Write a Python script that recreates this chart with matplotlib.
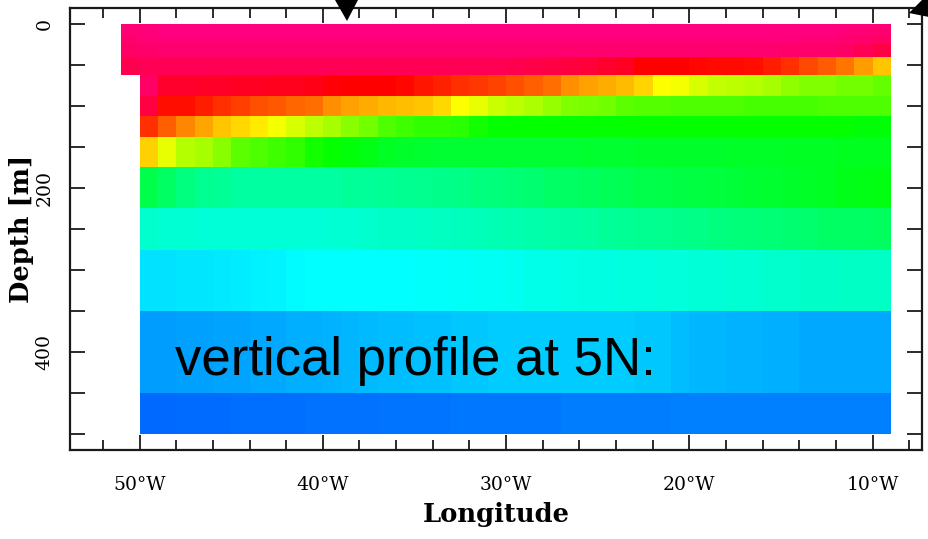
import numpy as np
import matplotlib
matplotlib.use('Agg')
import matplotlib.pyplot as plt
from matplotlib.colors import LinearSegmentedColormap
from matplotlib.patches import Polygon
from matplotlib.ticker import MultipleLocator, FixedLocator

nan = np.nan

# grid: 1 degree cells from 51W to 9W, depth cell edges in metres
lon_edges = np.arange(-51, -8, 1)
depth_edges = [0, 5, 15, 25, 40, 62.5, 87.5, 112.5, 137.5, 175, 225, 275, 350, 450, 500]

# temperature-like values per depth level, west -> east
t_0m = [28.8, 28.9, 29.0, 29.0, 29.0, 29.0, 29.0, 29.0, 29.0, 29.0,
        29.0, 29.0, 29.0, 29.0, 29.0, 29.0, 29.0, 29.0, 29.0, 29.0,
        29.0, 29.0, 29.0, 29.0, 29.0, 29.0, 29.0, 29.0, 29.0, 29.0,
        29.0, 29.0, 29.0, 29.0, 29.0, 29.0, 29.0, 29.0, 29.0, 29.0,
        29.0, 28.9]
t_10m = [28.8, 28.9, 29.0, 29.0, 29.0, 29.0, 29.0, 29.0, 29.0, 29.0,
         29.0, 29.0, 29.0, 29.0, 29.0, 29.0, 29.0, 29.0, 29.0, 29.0,
         29.0, 29.0, 29.0, 29.0, 29.0, 29.0, 29.0, 29.0, 29.0, 29.0,
         29.0, 29.0, 29.0, 29.0, 29.0, 29.0, 29.0, 29.0, 29.0, 28.9,
         28.8, 28.7]
t_20m = [28.7, 28.8, 28.9, 28.9, 28.9, 28.9, 28.9, 28.9, 28.9, 28.9,
         28.9, 28.9, 28.9, 28.9, 28.9, 28.9, 28.9, 28.9, 28.9, 28.9,
         28.9, 28.9, 28.9, 28.9, 28.9, 28.9, 28.9, 28.9, 28.9, 28.9,
         28.9, 28.9, 28.9, 28.9, 28.9, 28.9, 28.9, 28.8, 28.8, 28.7,
         28.6, 28.5]
t_30m = [28.5, 28.6, 28.7, 28.7, 28.7, 28.7, 28.7, 28.7, 28.7, 28.7,
         28.7, 28.7, 28.7, 28.7, 28.7, 28.7, 28.7, 28.7, 28.7, 28.7,
         28.7, 28.7, 28.7, 28.7, 28.7, 28.7, 28.7, 28.7, 28.7, 28.7,
         28.7, 28.7, 28.7, 28.7, 28.7, 28.7, 28.6, 28.6, 28.6, 28.5,
         28.3, 28.0]
t_50m = [28.2, 28.3, 28.3, 28.3, 28.3, 28.3, 28.3, 28.3, 28.3, 28.3,
         28.3, 28.3, 28.3, 28.3, 28.3, 28.3, 28.3, 28.3, 28.3, 28.3,
         28.3, 28.2, 28.1, 28.0, 27.9, 27.8, 27.7, 27.5, 27.0, 27.0,
         27.0, 26.8, 26.7, 26.7, 26.6, 26.3, 25.9, 25.3, 24.8, 24.2,
         23.3, 22.3]
t_75m = [nan, 28.5, 27.7, 27.7, 27.6, 27.6, 27.5, 27.5, 27.4, 27.4,
         27.3, 27.1, 27.0, 27.0, 27.0, 26.8, 26.5, 26.2, 25.9, 25.7,
         25.4, 25.1, 24.75, 24.4, 23.6, 23.2, 22.9, 22.6, 22.0, 21.0,
         20.9, 20.5, 20.3, 20.2, 20.1, 19.9, 19.7, 19.5, 19.5, 19.3,
         19.3, 19.2]
t_100m = [nan, 28.0, 26.6, 26.6, 26.25, 25.9, 25.5, 25.1, 24.9, 24.6,
          24.4, 23.6, 23.2, 22.9, 22.7, 22.5, 22.3, 21.9, 21.0, 20.7,
          20.4, 20.2, 20.0, 19.8, 19.5, 19.4, 19.3, 19.1, 19.0, 19.0,
          18.9, 18.9, 18.9, 18.9, 18.8, 18.8, 18.8, 18.8, 18.9, 18.9,
          18.9, 18.9]
t_125m = [nan, 25.9, 24.75, 23.8, 23.1, 22.3, 21.9, 21.5, 20.9, 20.5,
          20.2, 19.9, 19.6, 19.3, 18.9, 18.75, 18.6, 18.6, 18.5, 18.2,
          18.0, 18.0, 18.0, 18.0, 18.0, 18.0, 18.0, 18.0, 18.0, 18.0,
          18.0, 18.0, 18.0, 18.0, 18.0, 18.0, 18.0, 18.0, 18.0, 18.0,
          17.9, 17.9]
t_150m = [nan, 22.1, 20.7, 20.1, 19.9, 19.6, 19.1, 18.9, 18.75, 18.6,
          18.2, 18.0, 17.8, 17.5, 17.2, 17.0, 16.9, 16.8, 16.8, 16.8,
          16.8, 16.8, 16.8, 16.8, 16.8, 16.9, 16.9, 16.9, 17.0, 17.0,
          17.0, 17.0, 17.0, 17.1, 17.1, 17.1, 17.2, 17.2, 17.2, 17.3,
          17.3, 17.3]
t_200m = [nan, 16.2, 15.75, 15.0, 14.6, 14.5, 14.25, 14.25, 14.25, 14.25,
          14.25, 14.25, 14.4, 14.4, 14.5, 14.6, 14.7, 14.8, 14.9, 15.0,
          15.1, 15.3, 15.4, 15.6, 15.7, 15.8, 16.0, 16.1, 16.2, 16.3,
          16.4, 16.5, 16.6, 16.7, 16.8, 16.9, 17.0, 17.1, 17.2, 17.4,
          17.5, 17.6]
t_250m = [nan, 13.2, 13.1, 13.1, 13.0, 13.0, 13.0, 13.0, 13.0, 13.0,
          13.0, 13.1, 13.1, 13.2, 13.3, 13.3, 13.4, 13.5, 13.6, 13.7,
          13.8, 13.9, 14.0, 14.1, 14.2, 14.3, 14.4, 14.5, 14.6, 14.7,
          14.8, 14.9, 15.0, 15.1, 15.2, 15.3, 15.4, 15.5, 15.6, 15.7,
          15.7, 15.8]
t_300m = [nan, 11.3, 11.3, 11.4, 11.4, 11.5, 11.6, 11.7, 11.8, 11.9,
          12.0, 12.0, 12.0, 12.0, 12.0, 12.0, 12.1, 12.1, 12.2, 12.3,
          12.3, 12.4, 12.5, 12.5, 12.6, 12.7, 12.7, 12.8, 12.8, 12.9,
          12.9, 13.0, 13.0, 13.1, 13.1, 13.2, 13.2, 13.3, 13.3, 13.4,
          13.4, 13.4]
t_400m = [nan, 9.7, 9.7, 9.8, 9.8, 9.9, 9.9, 10.0, 10.0, 10.1,
          10.1, 10.2, 10.3, 10.4, 10.5, 10.5, 10.6, 10.6, 10.7, 10.7,
          10.8, 10.8, 10.8, 10.8, 10.8, 10.8, 10.8, 10.8, 10.7, 10.7,
          10.5, 10.3, 10.3, 10.2, 10.2, 10.1, 10.1, 10.0, 10.0, 10.0,
          10.0, 10.0]
t_500m = [nan, 8.3, 8.3, 8.4, 8.4, 8.4, 8.5, 8.5, 8.5, 8.5,
          8.6, 8.6, 8.6, 8.6, 8.7, 8.7, 8.7, 8.7, 8.8, 8.8,
          8.8, 8.8, 8.8, 8.8, 8.9, 8.9, 8.9, 8.9, 8.9, 8.9,
          9.0, 9.0, 9.0, 9.0, 9.0, 9.0, 9.0, 9.0, 9.0, 9.0,
          9.0, 9.0]

x_ticks = [-50, -40, -30, -20, -10]
x_ticklabels = ['50\u00b0W', '40\u00b0W', '30\u00b0W', '20\u00b0W', '10\u00b0W']
y_ticks = [0, 200, 400]

# ferret-like rainbow, blue (cold) -> magenta-pink (warm)
vmin, vmax = 7.0, 29.0
anchors = [(7, '#0040ff'), (9, '#0080ff'), (12, '#00ffff'), (15, '#00ff80'),
           (18, '#00ff00'), (21, '#ffff00'), (24, '#ff8000'), (27, '#ff0000'),
           (29, '#ff0080')]
cmap = LinearSegmentedColormap.from_list(
	'ferret', [((v - vmin) / (vmax - vmin), c) for v, c in anchors])


def main():
	W, H = 929, 539
	fig = plt.figure(figsize=(W / 100, H / 100), dpi=100)
	ax = fig.add_axes([70 / W, 1 - 450 / H, 852 / W, 442 / H])

	data = np.ma.masked_invalid(np.array([t_0m, t_10m, t_20m, t_30m, t_50m, t_75m, t_100m,
	                                      t_125m, t_150m, t_200m, t_250m, t_300m, t_400m, t_500m]))
	ax.pcolormesh(lon_edges, depth_edges, data, cmap=cmap, vmin=vmin, vmax=vmax,
	              shading='flat', edgecolors='none', antialiased=False)

	ax.set_xlim(-53.8, -7.3)
	ax.set_ylim(519.5, -19.5)

	ax.xaxis.set_major_locator(FixedLocator(x_ticks))
	ax.set_xticklabels(x_ticklabels)
	ax.xaxis.set_minor_locator(MultipleLocator(2))
	ax.yaxis.set_major_locator(FixedLocator(y_ticks))
	ax.set_yticklabels([str(v) for v in y_ticks], rotation=90, va='center')
	ax.yaxis.set_minor_locator(MultipleLocator(50))

	edge = '#1a1a1a'
	for s in ax.spines.values():
		s.set_linewidth(1.6)
		s.set_color(edge)

	ax.tick_params(axis='both', which='both', direction='in', top=True, right=True,
	               color=edge, width=1.3)
	ax.tick_params(axis='x', which='major', length=10.5, pad=19, labelsize=13.5)
	ax.tick_params(axis='x', which='minor', length=7)
	ax.tick_params(axis='y', which='both', length=10.5)
	ax.tick_params(axis='y', which='major', pad=12, labelsize=13.5)
	for lab in ax.get_xticklabels() + ax.get_yticklabels():
		lab.set_family('DejaVu Serif')

	ax.set_xlabel('Longitude', family='DejaVu Serif', fontweight='bold', fontsize=18.5)
	ax.set_ylabel('Depth [m]', family='DejaVu Serif', fontweight='bold', fontsize=18.5)
	ax.xaxis.set_label_coords(0.5, -0.118)
	ax.yaxis.set_label_coords(-0.042, 0.5)

	fig.text(175 / W, 1 - 375 / H, 'vertical profile at 5N:', family='Liberation Sans',
	         fontsize=38, color='black', ha='left', va='baseline')

	# slide arrows poking in at the top
	def px(pts):
		return [(x / W, 1 - y / H) for x, y in pts]
	fig.patches.append(Polygon(px([(335, 0), (358, 0), (347, 21)]), closed=True,
	                           transform=fig.transFigure, facecolor='black', edgecolor='none'))
	fig.patches.append(Polygon(px([(909, 13), (922, 0), (929, 0), (929, 17)]), closed=True,
	                           transform=fig.transFigure, facecolor='black', edgecolor='none'))

	fig.savefig('out.png', dpi=100)


if __name__ == "__main__":
	main()
